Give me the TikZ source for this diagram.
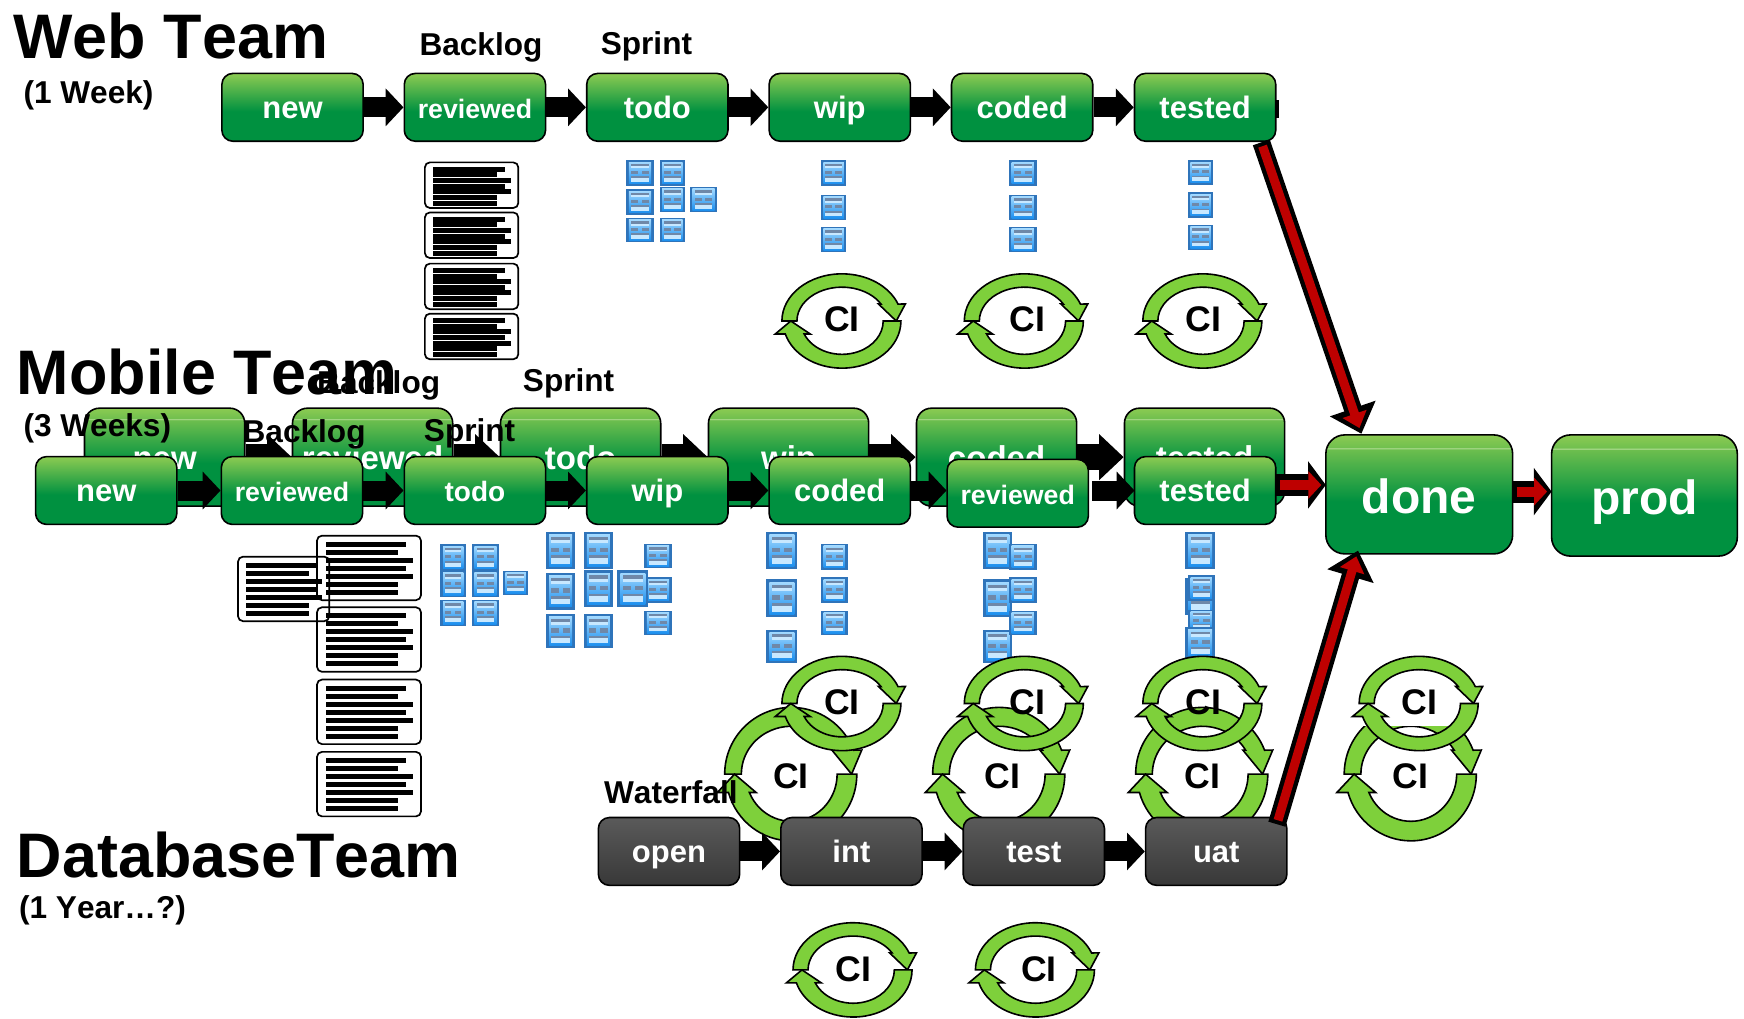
\documentclass[tikz,border=0pt]{standalone}
\usepackage{fontspec}
\setmainfont{Liberation Sans}[Kerning=Off]
\usetikzlibrary{arrows.meta}
\definecolor{gd}{HTML}{009140}
\definecolor{gl}{HTML}{8CCB52}
\definecolor{kt}{HTML}{5A5A5A}
\definecolor{kb}{HTML}{383838}
\definecolor{ringg}{HTML}{7ED03B}
\definecolor{redc}{HTML}{BE0000}
\definecolor{iconb}{HTML}{2F74BA}
\definecolor{iconl}{HTML}{A0D8FF}
\definecolor{iconm}{HTML}{1C8FEE}
\definecolor{iconbar}{HTML}{6F88A8}
\definecolor{iconlt}{HTML}{C8E8FF}
\pgfdeclareverticalshading{gsmall}{100bp}{color(0bp)=(gd); color(47bp)=(gd); color(75bp)=(gl); color(100bp)=(gl)}
\pgfdeclareverticalshading{gbig}{100bp}{color(0bp)=(gd); color(47bp)=(gd); color(69bp)=(gl!78!gd); color(69.3bp)=(gl!50!white); color(69.7bp)=(gl!80!gd); color(75bp)=(gl); color(100bp)=(gl)}
\pgfdeclareverticalshading{kshade}{100bp}{color(0bp)=(kb); color(25bp)=(kb); color(75bp)=(kt); color(100bp)=(kt)}
\tikzset{
  boxbase/.style={draw=black,line width=1.6pt,rounded corners=11pt,inner sep=0pt,text=white,align=center},
  gbox/.style={boxbase,shading=gsmall,minimum width=141.25pt,minimum height=67.8pt,text height=22pt,text depth=0pt,font=\fontsize{31}{31}\selectfont\bfseries},
  kbox/.style={boxbase,shading=kshade,minimum width=141.25pt,minimum height=67.8pt,text height=22pt,text depth=0pt,font=\fontsize{31}{31}\selectfont\bfseries},
  backbox/.style={boxbase,shading=gbig,minimum width=160.2pt,minimum height=97.9pt,text height=24.5pt,text depth=0pt,rounded corners=15pt,font=\fontsize{33}{33}\selectfont\bfseries},
  bigbox/.style={boxbase,shading=gbig,minimum width=186.8pt,minimum height=119pt,text height=38pt,text depth=0pt,rounded corners=19pt,font=\fontsize{48}{48}\selectfont\bfseries},
  flow/.style={black,line width=20pt,-{Triangle[length=17.8pt,width=36.7pt]}},
  backflow/.style={black,line width=26.7pt,-{Triangle[length=24.5pt,width=44.5pt]}},
  redout/.style={black,line width=22pt,-{Triangle[length=17.8pt,width=46.7pt]}},
  redin/.style={redc,line width=10pt,shorten >=4.5pt,shorten <=4pt,-{Triangle[length=13pt,width=27pt]}},
  diagout/.style={black,line width=17.8pt,-{Triangle[length=26.7pt,width=46.7pt]}},
  diagin/.style={redc,line width=9pt,shorten >=6pt,shorten <=4pt,-{Triangle[length=15pt,width=24.5pt]}},
  bigtitle/.style={anchor=base west,inner sep=0pt,font=\fontsize{62.9}{63}\selectfont\bfseries},
  subtitle/.style={anchor=base west,inner sep=0pt,font=\fontsize{31.6}{32}\selectfont\bfseries},
  citxt/.style={inner sep=0pt,font=\fontsize{35.6}{36}\selectfont\bfseries},
  ringline/.style={draw=black,fill=ringg,line width=1.6pt,line join=miter}
}
\newcommand{\docicon}[4]{%
  \pgfmathsetmacro\icw{(#2-#1)*1.1122}\pgfmathsetmacro\ich{(#4-#3)*1.1122}%
  \begin{scope}[shift={(#1,#3)},x=\icw pt,y=-\ich pt]
    \fill[iconb] (0,0) rectangle (1,1);
    \shade[top color=iconl,bottom color=iconm] (.1,.08) rectangle (.9,.92);
    \fill[iconbar] (.18,.14) rectangle (.82,.23);
    \fill[iconlt] (.18,.23) rectangle (.82,.31);
    \fill[iconbar] (.18,.42) rectangle (.43,.54);
    \fill[iconbar] (.57,.42) rectangle (.82,.54);
    \fill[iconbar] (.18,.63) rectangle (.82,.70);
    \fill[iconlt] (.18,.70) rectangle (.82,.85);
  \end{scope}}
\newcommand{\txtpanel}[5]{%
  \draw[rounded corners=5pt,line width=1.7pt] (#1,#2) rectangle ++(#3,#4);
  \foreach \f [count=\i from 0] in {.77,.69,.84,.77,.84,.69,.69}{%
    \fill (#1+.085*#3,#2+.093*#4+\i*.124*#4) rectangle ++(\f*#3,#5);}}
% name, ring x, ring y, xscale, yscale, text x, text y
\newcommand{\cirg}[7]{%
  \begin{scope}[shift={(#2,#3)},x=1.1122pt,y=1.1122pt,xscale=#4,yscale=#5]
    \draw[ringline] (-54,0) arc[start angle=180,end angle=21,x radius=54,y radius=42.4]
      -- (57,15.3) -- (48.8,0) -- (32.8,15.3) -- (35,15.3)
      arc[start angle=30.2,end angle=180,x radius=40.5,y radius=30.4] -- cycle;
    \draw[ringline] (53,0) arc[start angle=0,end angle=-164,x radius=53,y radius=42.4]
      -- (-60,-11.7) -- (-46,0) -- (-28.5,-11.7) -- (-34,-11.7)
      arc[start angle=-157,end angle=0,x radius=37,y radius=30] -- cycle;
  \end{scope}
  \node[citxt] (#1) at (#6,#7) {CI};}
\begin{document}
\begin{tikzpicture}[x=1.1122pt,y=-1.1122pt]
\useasboundingbox (0,0) rectangle (1568,915.3);
\fill[white] (0,0) rectangle (1568,915.3);

% mobile back row
\node[backbox] (b1) at (148,411) {new};
\node[backbox] (b2) at (335,411) {reviewed};
\node[backbox] (b3) at (522,411) {todo};
\node[backbox] (b4) at (709,411) {wip};
\node[backbox] (b5) at (896,411) {coded};
\node[backbox] (b6) at (1083,411) {tested};
\foreach \a/\b in {b1/b2,b2/b3,b3/b4,b4/b5,b5/b6}{\draw[backflow] (\a.east) -- (\b.west);}

% web row
\coordinate (wstub) at (1146,98);
\draw[black,line width=17.5pt] (wstub) -- ++(3.5,0);
\node[gbox] (w1) at (263,96.5) {new};
\node[gbox] (w2) at (427,96.5) {\fontsize{26.7}{27}\selectfont reviewed};
\node[gbox] (w3) at (591,96.5) {todo};
\node[gbox] (w4) at (755,96.5) {wip};
\node[gbox] (w5) at (919,96.5) {coded};
\node[gbox] (w6) at (1083.5,96.5) {tested};
\foreach \a/\b in {w1/w2,w2/w3,w3/w4,w4/w5,w5/w6}{\draw[flow] (\a.east) -- (\b.west);}

\txtpanel{382}{146}{84}{41}{4.5}
\txtpanel{382}{191}{84}{41}{4.5}
\txtpanel{382}{237}{84}{41}{4.5}
\txtpanel{382}{282}{84}{41}{4.5}

\docicon{563}{588}{144}{167}\docicon{593}{616}{144}{167}
\docicon{563}{588}{170}{193}\docicon{593}{616}{168}{191}\docicon{620}{645}{168}{191}
\docicon{563}{588}{196}{218}\docicon{593}{616}{196}{218}
\docicon{738}{761}{144}{167}\docicon{738}{761}{175}{198}\docicon{738}{761}{204}{227}
\docicon{907}{932}{144}{167}\docicon{907}{932}{175}{198}\docicon{907}{932}{204}{227}
\docicon{1068}{1091}{144}{166}\docicon{1068}{1091}{173}{196}\docicon{1068}{1091}{202}{225}

\cirg{ci1}{757}{288.6}{1}{1}{757}{287}
\cirg{ci2}{921}{288.6}{1}{1}{924}{287}
\cirg{ci3}{1081.5}{288.6}{1}{1}{1082}{287}

% mobile front row
\node[gbox] (m1) at (95.5,441) {new};
\node[gbox] (m2) at (262.5,441) {\fontsize{26.7}{27}\selectfont reviewed};
\node[gbox] (m3) at (427,441) {\fontsize{28}{28}\selectfont todo};
\node[gbox] (m4) at (591,441) {wip};
\node[gbox] (m5) at (755,441) {coded};
\node[gbox] (m6) at (1083.5,441) {tested};
\node[gbox] (m7) at (915,443.5) {\fontsize{26.7}{27}\selectfont reviewed};
\coordinate (a5e) at (818,441);
\coordinate (a5w) at (851,441);
\coordinate (a6e) at (982,441);
\coordinate (a6w) at (1020,441);
\foreach \a/\b in {m1/m2,m2/m3,m3/m4,m4/m5}{\draw[flow] (\a.east) -- (\b.west);}
\draw[flow] (a5e) -- (a5w);
\draw[flow] (a6e) -- (a6w);

\txtpanel{285}{481.6}{93.5}{58}{4.5}
\txtpanel{285}{546}{93.5}{58}{4.5}
\txtpanel{285}{611}{93.5}{58}{4.5}
\txtpanel{285}{676}{93.5}{58}{4.5}
\txtpanel{214}{500.5}{82}{58}{4.5}

\docicon{396}{419}{489}{513}\docicon{424}{449}{489}{513}
\docicon{396}{419}{513}{537}\docicon{424}{449}{513}{537}\docicon{452}{475}{513}{535}
\docicon{396}{419}{539}{563}\docicon{424}{449}{539}{563}

\docicon{579}{604}{489}{511}\docicon{579}{604}{519}{542}\docicon{579}{604}{549}{571}
\docicon{491}{517}{478}{512}\docicon{525}{551}{478}{512}
\docicon{491}{517}{515}{548}\docicon{525}{551}{512.5}{546}\docicon{555}{583}{512.5}{546}
\docicon{491}{517}{552}{583}\docicon{525}{551}{552}{583}

\docicon{738}{762}{489}{512.5}\docicon{738}{762}{519}{542}\docicon{738}{762}{549}{571}
\docicon{689}{717}{478}{512}\docicon{689}{717}{521}{555}\docicon{689}{717}{566}{596}

\docicon{884}{910}{478}{512}\docicon{884}{910}{521}{555}\docicon{884}{910}{566}{596}
\docicon{907}{932}{489}{512.5}\docicon{907}{932}{519}{542}\docicon{907}{932}{549}{571}

\docicon{1065.5}{1092.5}{478}{512}\docicon{1065.5}{1092.5}{520}{553}
\docicon{1068}{1092}{517}{540}\docicon{1068}{1092}{548}{568}\docicon{1065.5}{1092.5}{564}{592}

% lower rings, behind the database boxes
\cirg{ci4}{711.5}{696}{1.11}{1.415}{711}{698}
\cirg{ci5}{898.5}{696}{1.11}{1.415}{901}{698}
\cirg{ci6}{1081}{696}{1.11}{1.415}{1081}{698}
\begin{scope}
  \clip (1190,653) rectangle (1350,770);
  \cirg{ci7}{1268.5}{696}{1.11}{1.415}{1268}{698}
\end{scope}

% database row
\node[kbox] (d1) at (601.5,765.5) {open};
\node[kbox] (d2) at (765.5,765.5) {int};
\node[kbox] (d3) at (929.5,765.5) {test};
\node[kbox] (d4) at (1093.5,765.5) {uat};
\foreach \a/\b in {d1/d2,d2/d3,d3/d4}{\draw[flow] (\a.east) -- (\b.west);}

% upper rings
\cirg{ci8}{757}{632.5}{1}{1}{757}{631}
\cirg{ci9}{921}{632.5}{1}{1}{924}{631}
\cirg{ci10}{1081.5}{632.5}{1}{1}{1082}{631}
\cirg{ci11}{1276}{632.5}{1}{1}{1276}{631}
\cirg{ci12}{767}{872}{1}{1}{767}{871}
\cirg{ci13}{931}{872}{1}{1}{934}{871}

% done and prod
\node[bigbox] (done) at (1276,444.5) {done};
\node[bigbox,minimum width=185.7pt,minimum height=121.2pt] (prod) at (1478.5,445.5) {prod};
\coordinate (r1a) at (1147,436);
\coordinate (r1b) at (1192,436);
\coordinate (r2a) at (1360,442);
\coordinate (r2b) at (1395,442);
\coordinate (r3a) at (1134,128);
\coordinate (r3b) at (1224,390);
\coordinate (r4a) at (1148,741);
\coordinate (r4b) at (1221,495);
\draw[redout] (r1a) -- (r1b);
\draw[redin] (r1a) -- (r1b);
\draw[redout] (r2a) -- (r2b);
\draw[redin] (r2a) -- (r2b);
\draw[diagout] (r3a) -- (r3b);
\draw[diagin] (r3a) -- (r3b);
\draw[diagout] (r4a) -- (r4b);
\draw[diagin] (r4a) -- (r4b);

% texts
\node[bigtitle] (t1) at (12,53) {Web Team};
\node[bigtitle] (t2) at (15,355) {Mobile Team};
\node[bigtitle] (t3) at (15,788.5) {DatabaseTeam};
\node[subtitle] (s1) at (21,93) {(1 Week)};
\node[subtitle] (s2) at (21,392) {(3 Weeks)};
\node[subtitle] (s3) at (17,826) {(1 Year…?)};
\node[subtitle] (l1) at (377,50) {Backlog};
\node[subtitle] (l2) at (540,49) {Sprint};
\node[subtitle] (l3) at (285,354) {Backlog};
\node[subtitle] (l4) at (470,352) {Sprint};
\node[subtitle] (l5) at (218,398) {Backlog};
\node[subtitle] (l6) at (381,397) {Sprint};
\node[subtitle] (l7) at (543,722) {Waterfall};
\end{tikzpicture}
\end{document}
